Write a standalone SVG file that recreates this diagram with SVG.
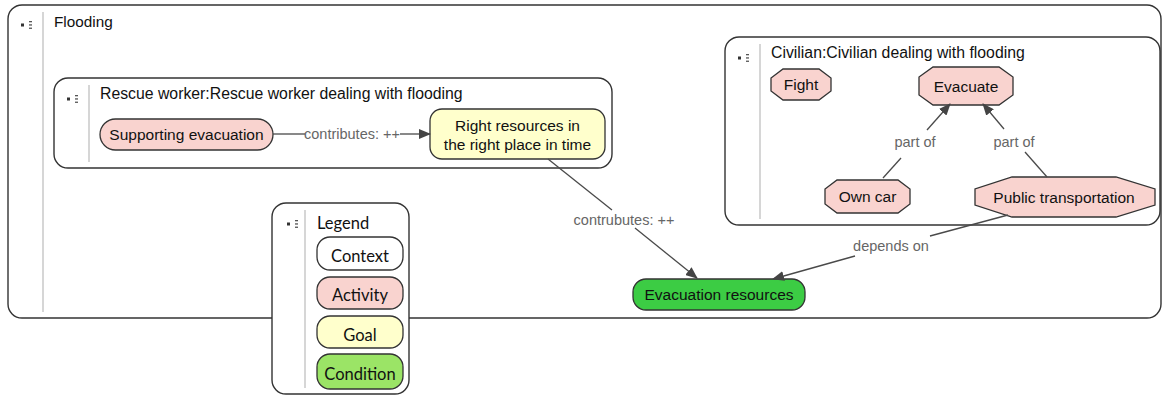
<svg xmlns="http://www.w3.org/2000/svg" width="1163" height="396" viewBox="0 0 1163 396">
<defs>
<marker id="arr" markerWidth="12" markerHeight="10" refX="11" refY="5" orient="auto" markerUnits="userSpaceOnUse">
<path d="M0,0 L12,5 L0,10 z" fill="#444"/>
</marker>
<g id="icon">
<rect x="0" y="-1.5" width="3" height="3" fill="#333"/>
<rect x="8" y="-4" width="3" height="1.3" fill="#555"/>
<rect x="8" y="-0.7" width="3" height="1.3" fill="#555"/>
<rect x="8" y="2.6" width="3" height="1.3" fill="#555"/>
</g>
</defs>
<style>
.ctx{fill:#fff;stroke:#333;stroke-width:1.4}
.div{stroke:#c8c8c8;stroke-width:1.5}
.title{font-family:"Liberation Sans",Arial,sans-serif;font-size:15.8px;fill:#111}
.lbl{font-family:"Liberation Sans",Arial,sans-serif;font-size:15.5px;fill:#111;text-anchor:middle}
.act{fill:#f9d3cf;stroke:#333;stroke-width:1.3}
.goal{fill:#ffffcc;stroke:#333;stroke-width:1.3}
.cond{fill:#3ccc44;stroke:#333;stroke-width:1.3}
.edge{stroke:#4a4a4a;stroke-width:1.3;fill:none}
.elbl{font-family:"Liberation Sans",Arial,sans-serif;font-size:14.5px;fill:#666;text-anchor:middle}
.leg{font-family:Lato,"Open Sans",sans-serif;font-size:16.5px;fill:#111;text-anchor:middle}
</style>

<g id="flooding">
<rect class="ctx" x="8" y="5" width="1153" height="313" rx="14"/>
<line class="div" x1="43" y1="12" x2="43" y2="312"/>
<use href="#icon" x="21" y="25"/>
<text class="title" x="54" y="27" style="font-size:15.3px">Flooding</text>
</g>

<g id="rescue-worker">
<rect class="ctx" x="54" y="78" width="558" height="90" rx="14"/>
<line class="div" x1="89" y1="85" x2="89" y2="162"/>
<use href="#icon" x="67" y="99"/>
<text class="title" x="100" y="99">Rescue worker:Rescue worker dealing with flooding</text>
</g>

<g id="civilian">
<rect class="ctx" x="725" y="37" width="435" height="188" rx="14"/>
<line class="div" x1="760" y1="44" x2="760" y2="219"/>
<use href="#icon" x="738" y="58"/>
<text class="title" x="771" y="58">Civilian:Civilian dealing with flooding</text>
</g>

<g id="supporting-evacuation">
<rect class="act" x="100" y="119" width="173" height="31" rx="15.5"/>
<text class="lbl" x="186.5" y="140">Supporting evacuation</text>
</g>

<g id="right-resources">
<rect class="goal" x="430" y="109" width="175" height="50" rx="12"/>
<text class="lbl" x="517.5" y="131">Right resources in</text>
<text class="lbl" x="517.5" y="150">the right place in time</text>
</g>

<g id="fight">
<polygon class="act" points="783,69 819,69 831,78 831,91 819,100 783,100 771,91 771,78"/>
<text class="lbl" x="801" y="90">Fight</text>
</g>

<g id="evacuate">
<polygon class="act" points="933,67 999,67 1013,77 1013,95 999,105 933,105 919,95 919,77"/>
<text class="lbl" x="966" y="92">Evacuate</text>
</g>

<g id="own-car">
<polygon class="act" points="837,180 898,180 910,189 910,204 898,213 837,213 825,204 825,189"/>
<text class="lbl" x="867.5" y="202">Own car</text>
</g>

<g id="public-transportation">
<polygon class="act" points="1012,177 1116,177 1155,189 1155,205 1116,217 1012,217 975,205 975,189"/>
<text class="lbl" x="1064" y="203">Public transportation</text>
</g>

<g id="evacuation-resources">
<rect class="cond" x="633" y="279" width="172" height="31" rx="13"/>
<text class="lbl" x="719" y="300">Evacuation resources</text>
</g>

<g id="connectors">
<line class="edge" x1="273" y1="134" x2="305" y2="134"/>
<line class="edge" x1="400" y1="134" x2="430" y2="134" marker-end="url(#arr)"/>
<text class="elbl" x="352" y="139">contributes: ++</text>

<line class="edge" x1="548" y1="159" x2="612" y2="210"/>
<line class="edge" x1="635" y1="228" x2="697" y2="278" marker-end="url(#arr)"/>
<text class="elbl" x="624" y="225">contrubutes: ++</text>

<line class="edge" x1="1008" y1="215" x2="930" y2="236"/>
<line class="edge" x1="855" y1="256" x2="773" y2="279" marker-end="url(#arr)"/>
<text class="elbl" x="891" y="251">depends on</text>

<line class="edge" x1="883" y1="178" x2="901" y2="158"/>
<line class="edge" x1="927" y1="130" x2="950" y2="104" marker-end="url(#arr)"/>
<text class="elbl" x="915" y="147">part of</text>

<line class="edge" x1="1047" y1="177" x2="1025" y2="152"/>
<line class="edge" x1="1004" y1="129" x2="983" y2="104" marker-end="url(#arr)"/>
<text class="elbl" x="1014" y="147">part of</text>
</g>

<g id="legend">
<rect class="ctx" x="272" y="203" width="137" height="191" rx="14"/>
<line class="div" x1="305" y1="210" x2="305" y2="388"/>
<use href="#icon" x="287" y="224"/>
<text class="leg" x="317" y="229" style="text-anchor:start">Legend</text>
<rect x="317" y="237" width="86" height="33" rx="13" fill="#fff" stroke="#333" stroke-width="1.3"/>
<text class="leg" x="360" y="262">Context</text>
<rect x="317" y="277" width="86" height="32" rx="13" fill="#f9d3cf" stroke="#333" stroke-width="1.3"/>
<text class="leg" x="360" y="301">Activity</text>
<rect x="317" y="316" width="86" height="32" rx="13" fill="#ffffcc" stroke="#333" stroke-width="1.3"/>
<text class="leg" x="360" y="341">Goal</text>
<rect x="317" y="354" width="86" height="35" rx="13" fill="#9be466" stroke="#333" stroke-width="1.3"/>
<text class="leg" x="360" y="380">Condition</text>
</g>
</svg>
